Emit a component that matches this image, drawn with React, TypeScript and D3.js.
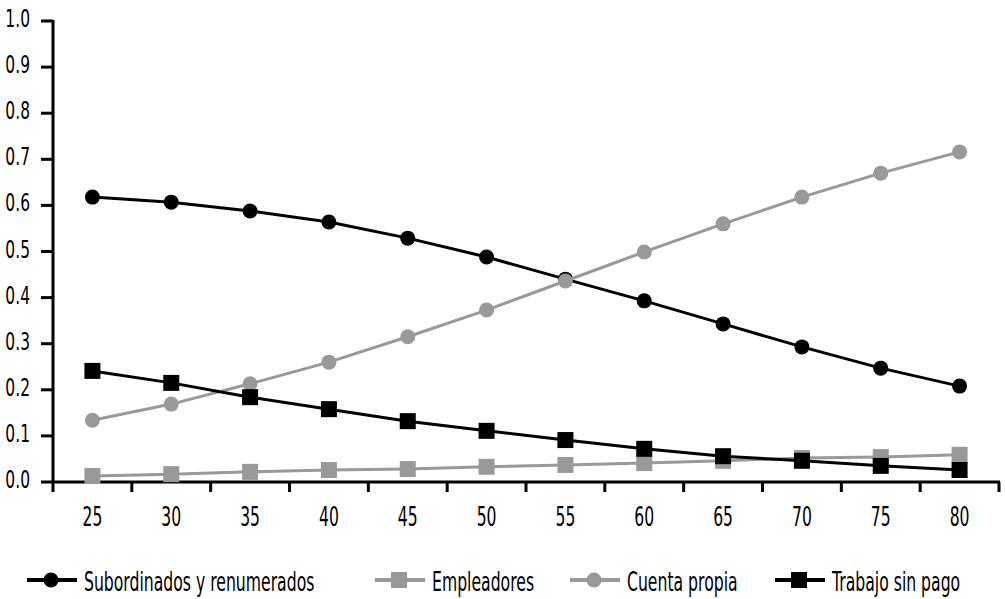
import React from "react";
import * as d3 from "d3";

const ages = [25, 30, 35, 40, 45, 50, 55, 60, 65, 70, 75, 80];
const subordinados = [0.618, 0.607, 0.588, 0.564, 0.529, 0.488, 0.44, 0.393, 0.343, 0.293, 0.247, 0.208];
const empleadores = [0.013, 0.017, 0.022, 0.026, 0.028, 0.033, 0.037, 0.041, 0.046, 0.052, 0.054, 0.059];
const cuentaPropia = [0.134, 0.169, 0.213, 0.26, 0.315, 0.373, 0.436, 0.499, 0.56, 0.618, 0.67, 0.716];
const trabajoSinPago = [0.241, 0.215, 0.184, 0.158, 0.132, 0.111, 0.091, 0.072, 0.056, 0.046, 0.035, 0.026];
const yTicks = [0, 0.1, 0.2, 0.3, 0.4, 0.5, 0.6, 0.7, 0.8, 0.9, 1.0];

const series = [
  { name: "Subordinados y renumerados", values: subordinados, color: "#000000", shape: "circle" },
  { name: "Empleadores", values: empleadores, color: "#999999", shape: "square" },
  { name: "Cuenta propia", values: cuentaPropia, color: "#999999", shape: "circle" },
  { name: "Trabajo sin pago", values: trabajoSinPago, color: "#000000", shape: "square" },
];
const legendX = [27, 375, 570, 775];

const FONT = "'DejaVu Sans', sans-serif";

function NarrowText({ x, y, anchor, size, sx, children }: any) {
  return (
    <g transform={`translate(${x},${y}) scale(${sx},1)`}>
      <text x={0} y={0} dy="0.36em" textAnchor={anchor} fontSize={size} fill="#000">
        {children}
      </text>
    </g>
  );
}

export default function App() {
  const x = d3.scaleBand<number>().domain(ages).range([53, 999]);
  const y = d3.scaleLinear().domain([0, 1]).range([482, 21]);
  const cx = (a: number) => (x(a) as number) + x.bandwidth() / 2;
  const line = d3
    .line<number>()
    .x((_, i) => cx(ages[i]))
    .y((d) => y(d));
  const xTickPos = ages.map((a) => x(a) as number).concat([999]);

  const marker = (shape: string, px: number, py: number, color: string, key: any) =>
    shape === "circle" ? (
      <circle key={key} cx={px} cy={py} r={7.5} fill={color} />
    ) : (
      <rect key={key} x={px - 8} y={py - 8} width={16} height={16} fill={color} />
    );

  return (
    <svg
      width={1005}
      height={599}
      style={{ position: "absolute", left: 0, top: 0, background: "#fff" }}
      fontFamily={FONT}
    >
      <line x1={53} x2={53} y1={20} y2={482} stroke="#000" strokeWidth={3} />
      <line x1={52} x2={1000} y1={482} y2={482} stroke="#000" strokeWidth={3} />
      {yTicks.map((t) => (
        <g key={t}>
          <line x1={41} x2={53} y1={y(t)} y2={y(t)} stroke="#000" strokeWidth={3} />
          <NarrowText x={30} y={y(t) - 3} anchor="end" size={25} sx={0.62}>
            {t.toFixed(1)}
          </NarrowText>
        </g>
      ))}
      {xTickPos.map((p, i) => (
        <line key={i} x1={p} x2={p} y1={482} y2={492} stroke="#000" strokeWidth={3} />
      ))}
      {ages.map((a) => (
        <NarrowText key={a} x={cx(a)} y={517} anchor="middle" size={26} sx={0.6}>
          {a}
        </NarrowText>
      ))}
      {series.map((s) => (
        <g key={s.name}>
          <path d={line(s.values) || ""} fill="none" stroke={s.color} strokeWidth={3} />
          {s.values.map((v, i) => marker(s.shape, cx(ages[i]), y(v), s.color, i))}
        </g>
      ))}
      {series.map((s, si) => {
        const lx = legendX[si];
        const ly = 580;
        return (
          <g key={s.name}>
            <line x1={lx} x2={lx + 50} y1={ly} y2={ly} stroke={s.color} strokeWidth={4} />
            {marker(s.shape, lx + 24, ly, s.color, "m")}
            <NarrowText x={lx + 57} y={ly + 1} anchor="start" size={27} sx={0.58}>
              {s.name}
            </NarrowText>
          </g>
        );
      })}
    </svg>
  );
}
